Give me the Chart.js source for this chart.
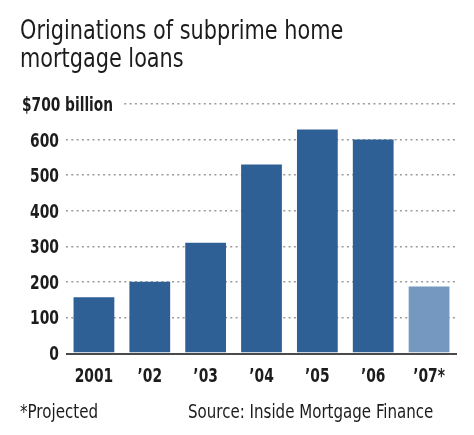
<!DOCTYPE html>
<html>
<head>
<meta charset="utf-8">
<script src="https://cdn.jsdelivr.net/npm/chart.js@4"></script>
<style>
  html, body { margin: 0; padding: 0; background: #fff; }
</style>
</head>
<body>
<canvas id="subprimeChart" width="474" height="435"></canvas>
<script>
// datos (miles de millones de dolares)
const years = ["2001", "\u201902", "\u201903", "\u201904", "\u201905", "\u201906", "\u201907*"];
const originations = [157, 200, 310, 530, 628, 600, 187];
const yTicks = [0, 100, 200, 300, 400, 500, 600, 700];
const titleLines = ["Originations of subprime home", "mortgage loans"];
const topTickLabel = "$700 billion";
const footnote = "*Projected";
const source = "Source: Inside Mortgage Finance";

const darkBlue = "rgb(46, 96, 149)";
const lightBlue = "rgb(117, 152, 192)";
const textColor = "#1c1c1c";
const fontFamily = "'DejaVu Sans Condensed', 'DejaVu Sans', sans-serif";

// texto estrecho: la fuente original es mas condensada que DejaVu
function narrowText(ctx, text, x, y, font, squeeze, align) {
    ctx.save();
    ctx.translate(x, y);
    ctx.scale(squeeze, 1);
    ctx.font = font;
    ctx.textAlign = align;
    ctx.textBaseline = "alphabetic";
    ctx.fillStyle = textColor;
    ctx.fillText(text, 0, 0);
    ctx.restore();
}

// titulo, etiquetas de ejes, linea base y notas al pie
const extrasPlugin = {
    id: "extras",
    afterDatasetsDraw(chart) {
        const { ctx, chartArea, scales } = chart;
        const y0 = scales.y.getPixelForValue(0);
        ctx.save();
        ctx.strokeStyle = "#4a4a4a";
        ctx.lineWidth = 2;
        ctx.beginPath();
        ctx.moveTo(chartArea.left, y0 + 1);
        ctx.lineTo(chartArea.right, y0 + 1);
        ctx.stroke();
        ctx.restore();
    },
    afterDraw(chart) {
        const { ctx, chartArea, scales } = chart;
        const tickFont = "bold 20px " + fontFamily;

        // titulo
        narrowText(ctx, titleLines[0], 20, 39, "26px " + fontFamily, 0.89, "left");
        narrowText(ctx, titleLines[1], 20, 67, "26px " + fontFamily, 0.89, "left");

        // eje y
        yTicks.forEach((v, i) => {
            const py = scales.y.getPixelForValue(v);
            if (i === yTicks.length - 1) {
                ctx.save();
                ctx.fillStyle = "#fff";
                ctx.fillRect(chartArea.left - 4, py - 5, 60, 10);
                ctx.restore();
                narrowText(ctx, topTickLabel, 22, py + 7, tickFont, 0.765, "left");
            } else {
                narrowText(ctx, String(v), chartArea.left - 7, py + 7, tickFont, 0.77, "right");
            }
        });

        // eje x
        years.forEach((label, i) => {
            const px = scales.x.getPixelForValue(i);
            narrowText(ctx, label, px, 382, tickFont, 0.77, "center");
        });

        // notas al pie
        narrowText(ctx, footnote, 20, 418, "20px " + fontFamily, 0.84, "left");
        narrowText(ctx, source, 188, 418, "20px " + fontFamily, 0.837, "left");
    }
};

const ctx = document.getElementById("subprimeChart").getContext("2d");
new Chart(ctx, {
    type: "bar",
    data: {
        labels: years,
        datasets: [{
            data: originations,
            backgroundColor: (c) => years[c.dataIndex].endsWith("*") ? lightBlue : darkBlue,
            borderWidth: 0,
            barPercentage: 0.73,
            categoryPercentage: 1.0,
        }],
    },
    options: {
        responsive: false,
        animation: false,
        layout: {
            padding: { left: 20, right: 17, top: 104, bottom: 42 },
        },
        plugins: {
            legend: { display: false },
            tooltip: { enabled: false },
            title: { display: false },
        },
        scales: {
            x: {
                grid: { display: false, drawTicks: false },
                border: { display: false },
                ticks: { display: false },
                afterFit: (scale) => { scale.height = 40; },
            },
            y: {
                min: 0,
                max: 700,
                afterBuildTicks: (scale) => { scale.ticks = yTicks.map(v => ({ value: v })); },
                grid: {
                    drawTicks: false,
                    color: (c) => c.tick && c.tick.value === 0 ? "rgba(0,0,0,0)" : "#9a9a9a",
                    lineWidth: 1.5,
                },
                border: { display: false, dash: [2, 3.3] },
                ticks: { display: false },
                afterFit: (scale) => { scale.width = 46; },
            },
        },
    },
    plugins: [extrasPlugin],
});
</script>
</body>
</html>
